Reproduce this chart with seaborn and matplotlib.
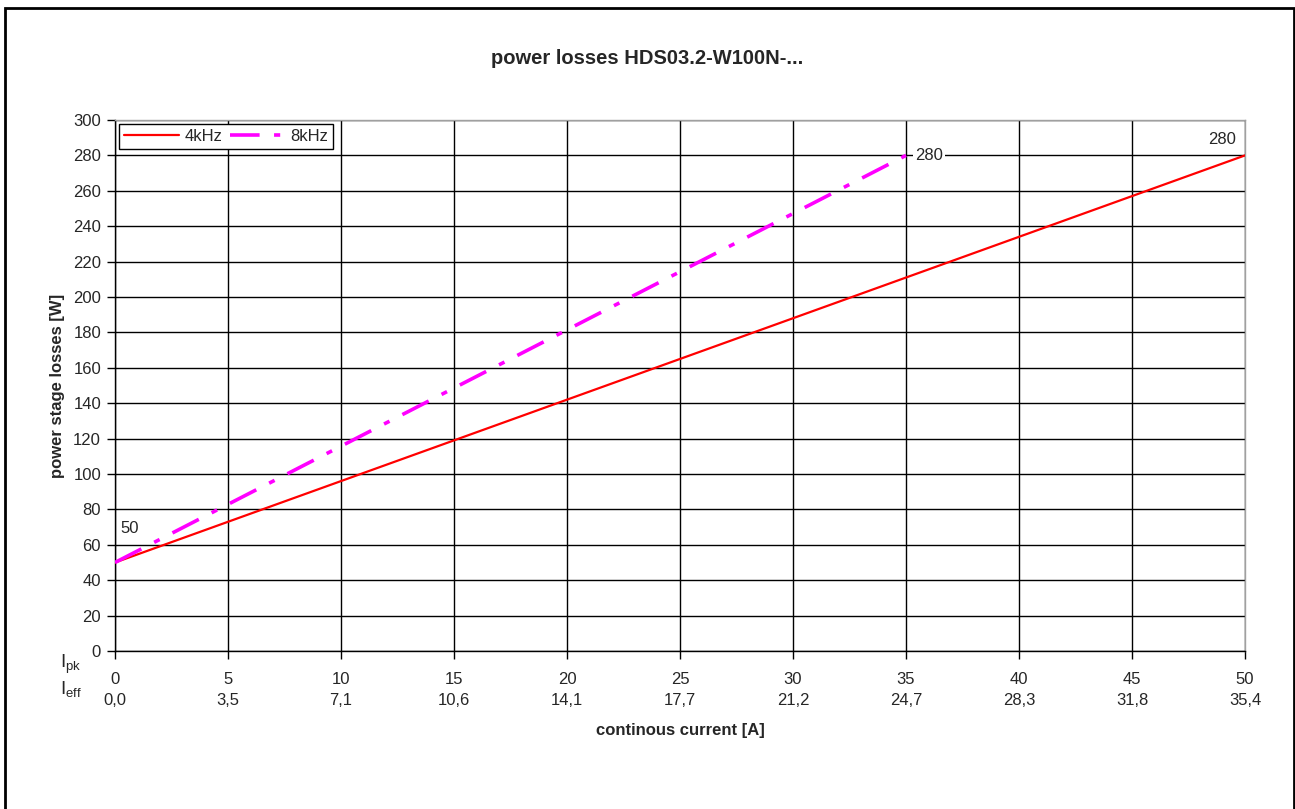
import pandas as pd
import matplotlib.pyplot as plt
import seaborn as sns

# data
i_pk = [0, 50]
loss_4k = [50, 280]
i_pk_8k = [0, 35]
loss_8k = [50, 280]
xticks = [0, 5, 10, 15, 20, 25, 30, 35, 40, 45, 50]
i_eff = ['0,0', '3,5', '7,1', '10,6', '14,1', '17,7', '21,2', '24,7', '28,3', '31,8', '35,4']
yticks = list(range(0, 301, 20))

df = pd.DataFrame({'Ipk': i_pk + i_pk_8k, 'loss': loss_4k + loss_8k,
                   'freq': ['4kHz'] * 2 + ['8kHz'] * 2})

sns.set_style('white')
plt.rcParams['font.family'] = ['Liberation Sans', 'DejaVu Sans']
plt.rcParams['mathtext.default'] = 'regular'

fig = plt.figure(figsize=(12.95, 8.09), dpi=100)
ax = fig.add_axes([115 / 1295, 1 - 651 / 809, 1130 / 1295, 531 / 809])

sns.lineplot(data=df[df['freq'] == '4kHz'], x='Ipk', y='loss', ax=ax,
             color='#ff0000', linewidth=1.6, label='4kHz', zorder=3)
sns.lineplot(data=df[df['freq'] == '8kHz'], x='Ipk', y='loss', ax=ax,
             color='#ff00ff', linewidth=2.6, label='8kHz', zorder=3)
ax.lines[1].set_dashes([8.2, 4.0, 1.7, 4.0])

ax.set_xlim(0, 50)
ax.set_ylim(0, 300)
ax.set_yticks(yticks)
ax.set_xticks(xticks)
ax.set_xticklabels([f'{a}\n{b}' for a, b in zip(xticks, i_eff)], linespacing=1.5)
ax.grid(True, color='black', linewidth=1)
ax.set_axisbelow(True)
ax.tick_params(axis='both', direction='out', length=6, width=1, color='black',
               labelsize=12, bottom=True, left=True, pad=4)
ax.tick_params(axis='x', pad=9)
for side in ['left', 'bottom']:
    ax.spines[side].set_color('black')
    ax.spines[side].set_linewidth(1)
for side in ['top', 'right']:
    ax.spines[side].set_color('#a0a0a0')
    ax.spines[side].set_linewidth(1)

ax.set_xlabel('continous current [A]', fontsize=12, fontweight='bold', labelpad=11)
ax.set_ylabel('power stage losses [W]', fontsize=12, fontweight='bold', labelpad=6)

# data labels
ax.text(0.25, 69, str(loss_4k[0]), fontsize=12, ha='left', va='center')
ax.text(35.4, loss_8k[-1], str(loss_8k[-1]), fontsize=12, ha='left', va='center',
        bbox=dict(facecolor='white', edgecolor='none', pad=1.5), zorder=4)
ax.text(49.6, 289, str(loss_4k[-1]), fontsize=12, ha='right', va='center')

leg = ax.legend(loc='upper left', ncol=2, fontsize=12, frameon=True, fancybox=False,
                edgecolor='black', framealpha=1, handlelength=3.3, columnspacing=0.5,
                handletextpad=0.3, borderpad=0.3, borderaxespad=0.25)
leg.get_frame().set_linewidth(1)

fig.text(0.5, 1 - 58 / 809, 'power losses HDS03.2-W100N-...', fontsize=14.5,
         fontweight='bold', ha='center', va='center')
fig.text(60 / 1295, 1 - 664 / 809, '$I_{pk}$', fontsize=13.5, ha='left', va='center')
fig.text(60 / 1295, 1 - 689 / 809, '$I_{eff}$', fontsize=13.5, ha='left', va='center')

border = plt.Rectangle((5 / 1295, -0.05), 1289 / 1295, 1.05 - 8 / 809,
                       transform=fig.transFigure, fill=False, edgecolor='black',
                       linewidth=2, zorder=10)
fig.patches.append(border)

plt.savefig('out.png', dpi=100)
